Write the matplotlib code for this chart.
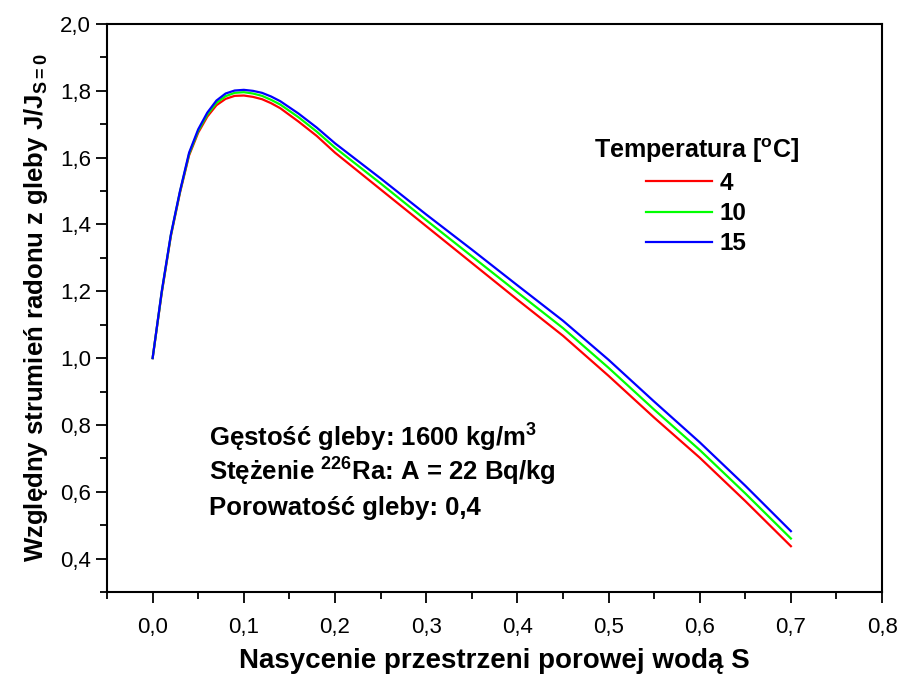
import matplotlib
matplotlib.use('Agg')
import matplotlib.pyplot as plt
from matplotlib.ticker import MultipleLocator, FuncFormatter

plt.rcParams['font.family'] = ['Liberation Sans', 'DejaVu Sans']
plt.rcParams['mathtext.fontset'] = 'custom'
plt.rcParams['mathtext.rm'] = 'Liberation Sans:bold'
plt.rcParams['mathtext.it'] = 'Liberation Sans:bold'
plt.rcParams['mathtext.bf'] = 'Liberation Sans:bold'

# saturation S
s = [0.0, 0.01, 0.02, 0.03, 0.04, 0.05, 0.06, 0.07, 0.08, 0.09, 0.10, 0.11,
     0.12, 0.13, 0.14, 0.16, 0.18, 0.20, 0.25, 0.30, 0.35, 0.40, 0.45, 0.50,
     0.55, 0.60, 0.65, 0.70]

# relative radon flux J/J_S=0 for each temperature
j_4 = [1.0, 1.195, 1.365, 1.495, 1.607, 1.675, 1.723, 1.757, 1.776, 1.785, 1.786, 1.782,
       1.775, 1.763, 1.748, 1.708, 1.665, 1.615, 1.505, 1.395, 1.285, 1.175, 1.067, 0.947,
       0.822, 0.702, 0.572, 0.437]
j_10 = [1.0, 1.198, 1.368, 1.498, 1.611, 1.680, 1.729, 1.764, 1.784, 1.794, 1.796, 1.792,
        1.785, 1.773, 1.759, 1.721, 1.678, 1.630, 1.523, 1.413, 1.305, 1.197, 1.090, 0.971,
        0.846, 0.725, 0.595, 0.460]
j_15 = [1.0, 1.20, 1.37, 1.50, 1.615, 1.685, 1.735, 1.771, 1.792, 1.801, 1.803, 1.800,
        1.794, 1.783, 1.769, 1.732, 1.690, 1.643, 1.538, 1.430, 1.325, 1.218, 1.112, 0.995,
        0.870, 0.748, 0.618, 0.482]

temps = ['4', '10', '15']
colors = ['#ff0000', '#00ff00', '#0000ff']

fig = plt.figure(figsize=(9.01, 6.77), dpi=100)
ax = fig.add_axes([0.1188, 0.1256, 0.979 - 0.1188, 0.9645 - 0.1256])

for y, lab, c in zip([j_4, j_10, j_15], temps, colors):
    ax.plot(s, y, color=c, lw=1.6, label=lab)

ax.set_xlim(-0.05, 0.8)
ax.set_ylim(0.3, 2.0)
ax.xaxis.set_major_locator(MultipleLocator(0.1))
ax.xaxis.set_minor_locator(MultipleLocator(0.05))
ax.yaxis.set_major_locator(MultipleLocator(0.2))
ax.yaxis.set_minor_locator(MultipleLocator(0.1))
comma = FuncFormatter(lambda v, p: ('%.1f' % v).replace('.', ','))
ax.xaxis.set_major_formatter(comma)
ax.yaxis.set_major_formatter(comma)

for sp in ax.spines.values():
    sp.set_linewidth(1.5)
ax.tick_params(which='major', direction='out', length=8, width=1.3, labelsize=16)
ax.tick_params(which='minor', direction='out', length=5, width=1.3)
ax.tick_params(axis='x', pad=10)

ax.set_xlabel('Nasycenie przestrzeni porowej wodą S', fontsize=20, fontweight='bold', labelpad=7)
ax.set_ylabel('Względny strumień radonu z gleby J/J$_{\\mathrm{S=0}}$', fontsize=18.5,
              fontweight='bold', labelpad=7)

leg = ax.legend(loc='upper right', bbox_to_anchor=(799 / 901, 1 - 136 / 677),
                bbox_transform=fig.transFigure, frameon=False, borderpad=0, borderaxespad=0,
                title='Temperatura [$^{\\mathrm{o}}$C]', handlelength=2.7, handletextpad=0.3,
                labelspacing=0.3, prop={'weight': 'bold', 'size': 17.5})
leg.get_title().set_fontsize(18)
leg.get_title().set_fontweight('bold')

ax.text(0.232, 0.3397, 'Gęstość gleby: 1600 kg/m$^{3}$', transform=fig.transFigure,
        fontsize=18.5, fontweight='bold', va='baseline')
ax.text(0.232, 0.2895, 'Stężenie $^{226}$Ra: A = 22 Bq/kg', transform=fig.transFigure,
        fontsize=18.5, fontweight='bold', va='baseline')
ax.text(0.232, 0.2393, 'Porowatość gleby: 0,4', transform=fig.transFigure,
        fontsize=18.5, fontweight='bold', va='baseline')

plt.savefig('out.png', dpi=100)
